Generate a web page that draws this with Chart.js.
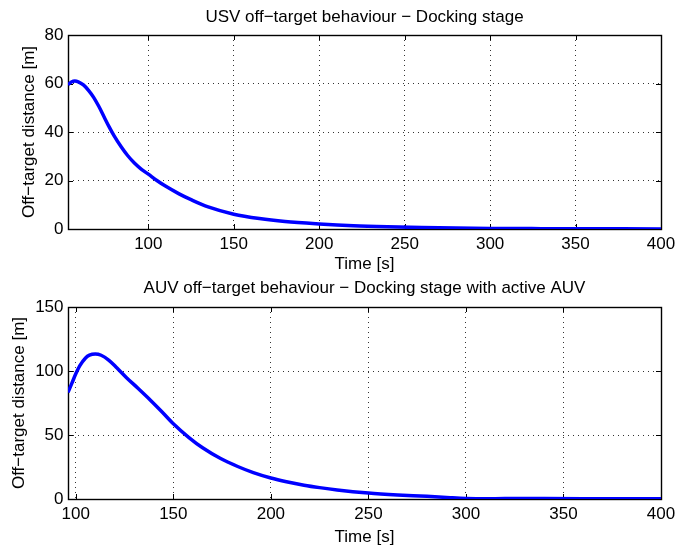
<!DOCTYPE html>
<html>
<head>
<meta charset="utf-8">
<script src="https://cdn.jsdelivr.net/npm/chart.js@4.4.0/dist/chart.umd.min.js"></script>
<style>
  body { margin: 0; background: #fff; }
  .box { position: absolute; left: 0; width: 677px; height: 275px; }
</style>
</head>
<body>
<div class="box" style="top:0"><canvas id="usvChart"></canvas></div>
<div class="box" style="top:275px"><canvas id="auvChart"></canvas></div>
<script>
// USV off-target distance, docking stage
const usvTime = [53,55,57,59,62,65,68,71,74,77,80,84,88,92,96,100,105,110,118,125,135,150,165,180,200,220,240,260,280,300,330,360,400];
const usvDist = [59.5,60.6,61.0,60.7,59.4,57.2,54.3,50.6,46.4,42.2,38.4,34.0,30.2,27.1,24.6,22.6,20.0,17.7,14.5,12.1,9.1,6.1,4.3,3.1,2.1,1.35,0.9,0.6,0.4,0.25,0.15,0.1,0.05];

// AUV off-target distance, docking stage with active AUV
const auvTime = [96,98,100,102,105,107,110,113,117,121,126,132,138,144,150,158,165,174,183,191,200,208,217,225,234,250,265,280,292,300,310,320,340,370,400];
const auvDist = [83.3,90.5,97.8,104,110.2,112.4,113.3,112.3,108.3,102.5,94.8,86.3,77.6,68.4,58.8,48.0,40.0,31.8,25.4,20.6,16.4,13.5,10.8,8.9,7.1,4.7,3.2,2.1,1.0,0.4,0.1,0.4,0.3,0.2,0.1];

const timeTicks = [100,150,200,250,300,350,400];
const usvTicks = [0,20,40,60,80];
const auvTicks = [0,50,100,150];

const FONT = "'Liberation Sans', Arial, Helvetica, sans-serif";
const FS = 17;

// black box round the plot with small inward tick marks, like matlab
const framePlugin = {
  id: 'frame',
  beforeDatasetsDraw(chart) {
    const {ctx, chartArea: a, scales} = chart;
    const x = scales.x, y = scales.y;
    ctx.save();
    ctx.strokeStyle = '#000';
    ctx.lineWidth = 1;
    ctx.beginPath();
    x.ticks.forEach(t => {
      const px = Math.round(x.getPixelForValue(t.value)) + 0.5;
      ctx.moveTo(px, a.bottom); ctx.lineTo(px, a.bottom - 5);
      ctx.moveTo(px, a.top); ctx.lineTo(px, a.top + 5);
    });
    y.ticks.forEach(t => {
      const py = Math.round(y.getPixelForValue(t.value)) + 0.5;
      ctx.moveTo(a.left, py); ctx.lineTo(a.left + 5, py);
      ctx.moveTo(a.right, py); ctx.lineTo(a.right - 5, py);
    });
    ctx.stroke();
    ctx.lineWidth = 1.4;
    ctx.strokeRect(Math.round(a.left) + 0.5, Math.round(a.top) + 0.5,
                   Math.round(a.right - a.left), Math.round(a.bottom - a.top));
    ctx.restore();
  }
};

function makeConfig(label, times, dists, o) {
  const points = times.map((t, i) => ({x: t, y: dists[i]}));
  return {
    type: 'line',
    data: {
      datasets: [{
        label: label,
        data: points,
        xAxisID: 'x',
        yAxisID: 'y',
        borderColor: '#0000ff',
        borderWidth: 3.5,
        pointRadius: 0,
        cubicInterpolationMode: 'monotone',
        fill: false
      }]
    },
    options: {
      responsive: true,
      maintainAspectRatio: false,
      animation: false,
      layout: { padding: { left: 0, right: 16, top: 0, bottom: 0 } },
      plugins: { legend: { display: false }, tooltip: { enabled: false } },
      scales: {
        x: {
          type: 'linear', position: 'bottom', min: o.xMin, max: 400,
          afterBuildTicks: s => { s.ticks = timeTicks.map(v => ({value: v})); },
          grid: { color: '#333', lineWidth: 1, drawTicks: false },
          border: { display: false, dash: [1, 4] },
          ticks: { color: '#000', padding: 5.5, maxRotation: 0, font: { family: FONT, size: FS } },
          title: { display: true, text: 'Time [s]', color: '#000',
                   font: { family: FONT, size: FS }, padding: { top: 0, bottom: o.xTitleBottom } },
          afterFit: s => { s.height = o.xH; s.paddingLeft = 0; s.paddingRight = 0; }
        },
        y: {
          type: 'linear', position: 'left', min: 0, max: o.yMax,
          afterBuildTicks: s => { s.ticks = o.yTicks.map(v => ({value: v})); },
          grid: { color: '#333', lineWidth: 1, drawTicks: false },
          border: { display: false, dash: [1, 4] },
          ticks: { color: '#000', padding: 4.5, font: { family: FONT, size: FS } },
          title: { display: true, text: 'Off\u2212target distance [m]', color: '#000',
                   font: { family: FONT, size: FS }, padding: { top: o.yTitleTop, bottom: 0 } },
          afterFit: s => { s.width = 68; s.paddingTop = 0; s.paddingBottom = 0; }
        },
        // top axis only carries the plot title, centred over the plot box
        top: {
          type: 'linear', position: 'top', min: o.xMin, max: 400,
          grid: { display: false }, border: { display: false },
          ticks: { display: false },
          title: { display: true, text: o.title, color: '#000',
                   font: { family: FONT, size: FS }, padding: { top: o.titleTop, bottom: 0 } },
          afterFit: s => { s.height = o.topH; s.paddingLeft = 0; s.paddingRight = 0; }
        }
      }
    },
    plugins: [framePlugin]
  };
}

const usvChart = new Chart(document.getElementById('usvChart'),
  makeConfig('USV', usvTime, usvDist, {
    title: 'USV off\u2212target behaviour \u2212 Docking stage',
    xMin: 53, yMax: 80, yTicks: usvTicks,
    topH: 35, titleTop: 7.5, xH: 46, xTitleBottom: 0, yTitleTop: 19
  }));

const auvChart = new Chart(document.getElementById('auvChart'),
  makeConfig('AUV', auvTime, auvDist, {
    title: 'AUV off\u2212target behaviour \u2212 Docking stage with active AUV',
    xMin: 96, yMax: 150, yTicks: auvTicks,
    topH: 32, titleTop: 3, xH: 51, xTitleBottom: 2.5, yTitleTop: 9.5
  }));
</script>
</body>
</html>
